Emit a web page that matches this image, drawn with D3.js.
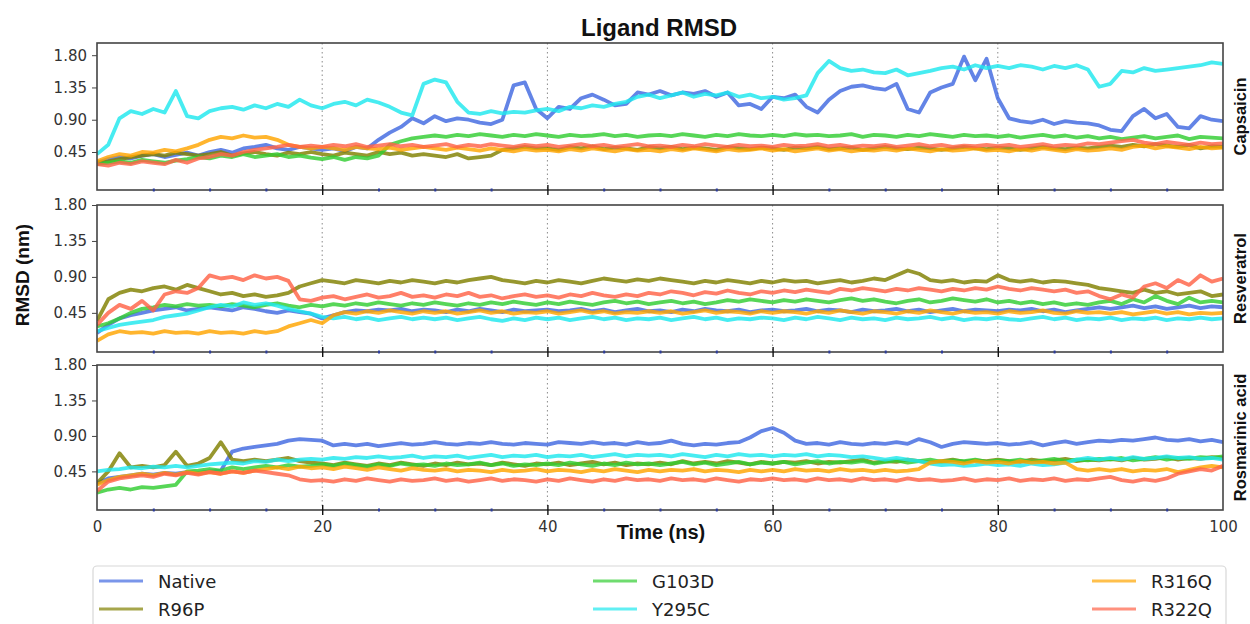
<!DOCTYPE html>
<html>
<head>
<meta charset="utf-8">
<script src="https://cdn.jsdelivr.net/npm/d3@7"></script>
<style>
  html, body { margin: 0; padding: 0; background: #fff; }
  svg { display: block; }
</style>
</head>
<body>
<svg id="chart" width="1250" height="624"></svg>
<script>
// ---------------- DATA ----------------
const seriesNames = ["Native", "R96P", "G103D", "Y295C", "R316Q", "R322Q"];
const seriesColors = ["#4169e1", "#808000", "#32cd32", "#1ee8ee", "#ffa500", "#ff6347"];
const ligands = ["Capsaicin", "Resveratrol", "Rosmarinic acid"];
const yTicks = [0.45, 0.90, 1.35, 1.80];
const xMajorTicks = [0, 20, 40, 60, 80, 100];
const xMinorTicks = [5, 10, 15, 25, 30, 35, 45, 50, 55, 65, 70, 75, 85, 90, 95];
const xGrid = [20, 40, 60, 80];
const timeNs = d3.range(0, 101); // sampling times, 1 ns apart

// Capsaicin
const capNative = [0.30,0.35,0.38,0.36,0.40,0.42,0.38,0.41,0.44,0.40,
  0.45,0.48,0.44,0.50,0.52,0.55,0.50,0.48,0.52,0.50,
  0.48,0.50,0.46,0.52,0.50,0.62,0.72,0.80,0.92,0.85,
  0.95,0.88,0.92,0.90,0.86,0.84,0.90,1.38,1.42,1.05,
  0.92,1.08,1.05,1.20,1.25,1.18,1.10,1.12,1.28,1.25,
  1.30,1.24,1.28,1.26,1.30,1.22,1.28,1.10,1.12,1.05,
  1.22,1.20,1.25,1.08,1.00,1.18,1.30,1.36,1.38,1.34,
  1.32,1.40,1.05,1.00,1.28,1.35,1.40,1.78,1.45,1.75,
  1.20,0.92,0.88,0.86,0.90,0.84,0.88,0.86,0.85,0.82,
  0.76,0.74,0.95,1.05,0.92,0.98,0.80,0.78,0.95,0.90,0.88];
const capR96P = [0.30,0.32,0.35,0.38,0.40,0.42,0.40,0.44,0.42,0.40,
  0.42,0.45,0.40,0.43,0.45,0.42,0.40,0.44,0.42,0.45,
  0.42,0.40,0.44,0.42,0.40,0.45,0.42,0.44,0.40,0.42,
  0.40,0.38,0.42,0.36,0.38,0.40,0.48,0.50,0.52,0.50,
  0.50,0.48,0.52,0.50,0.53,0.49,0.51,0.50,0.48,0.52,
  0.50,0.52,0.49,0.51,0.50,0.48,0.52,0.50,0.49,0.51,
  0.50,0.48,0.51,0.50,0.52,0.49,0.50,0.51,0.48,0.50,
  0.52,0.50,0.49,0.51,0.50,0.48,0.50,0.52,0.50,0.49,
  0.51,0.50,0.48,0.50,0.52,0.50,0.49,0.51,0.50,0.52,
  0.54,0.52,0.55,0.53,0.56,0.54,0.52,0.55,0.50,0.53,0.52];
const capG103D = [0.28,0.30,0.32,0.30,0.34,0.32,0.30,0.33,0.35,0.38,
  0.36,0.40,0.38,0.42,0.38,0.40,0.42,0.38,0.40,0.37,
  0.35,0.38,0.34,0.38,0.36,0.40,0.55,0.60,0.64,0.66,
  0.68,0.66,0.69,0.67,0.70,0.68,0.66,0.69,0.67,0.70,
  0.68,0.66,0.69,0.67,0.68,0.70,0.67,0.69,0.66,0.68,
  0.69,0.67,0.70,0.68,0.66,0.69,0.67,0.70,0.68,0.67,
  0.69,0.67,0.70,0.68,0.69,0.67,0.68,0.70,0.66,0.69,
  0.68,0.66,0.69,0.67,0.70,0.68,0.66,0.69,0.67,0.68,
  0.66,0.68,0.65,0.67,0.69,0.66,0.68,0.65,0.67,0.64,
  0.66,0.63,0.65,0.67,0.64,0.66,0.68,0.63,0.66,0.65,0.64];
const capY295C = [0.42,0.55,0.92,1.02,0.98,1.05,1.00,1.30,0.95,0.92,
  1.02,1.06,1.08,1.04,1.10,1.06,1.12,1.08,1.18,1.10,
  1.06,1.12,1.15,1.10,1.18,1.14,1.08,1.00,0.96,1.40,
  1.46,1.42,1.15,1.00,0.98,1.02,0.99,1.01,1.00,1.03,
  1.05,1.02,1.08,1.06,1.10,1.08,1.12,1.15,1.22,1.25,
  1.20,1.24,1.28,1.22,1.26,1.24,1.28,1.22,1.25,1.20,
  1.22,1.18,1.20,1.24,1.55,1.72,1.62,1.58,1.60,1.56,
  1.55,1.60,1.52,1.55,1.58,1.62,1.64,1.60,1.66,1.62,
  1.65,1.62,1.66,1.64,1.60,1.65,1.62,1.66,1.60,1.36,
  1.40,1.58,1.56,1.62,1.58,1.60,1.62,1.64,1.66,1.70,1.68];
const capR316Q = [0.32,0.38,0.42,0.40,0.45,0.44,0.48,0.46,0.50,0.55,
  0.62,0.66,0.64,0.68,0.65,0.66,0.62,0.55,0.52,0.50,
  0.52,0.50,0.48,0.52,0.50,0.49,0.51,0.48,0.50,0.52,
  0.50,0.48,0.51,0.49,0.47,0.50,0.48,0.46,0.49,0.47,
  0.48,0.46,0.49,0.47,0.50,0.48,0.46,0.49,0.47,0.48,
  0.46,0.49,0.47,0.50,0.48,0.46,0.49,0.47,0.48,0.50,
  0.47,0.49,0.46,0.48,0.50,0.47,0.49,0.46,0.48,0.47,
  0.49,0.47,0.50,0.48,0.46,0.49,0.47,0.48,0.50,0.47,
  0.48,0.46,0.49,0.47,0.50,0.48,0.46,0.49,0.47,0.48,
  0.50,0.48,0.52,0.54,0.50,0.53,0.51,0.49,0.52,0.50,0.51];
const capR322Q = [0.28,0.26,0.30,0.28,0.32,0.30,0.28,0.34,0.30,0.36,
  0.38,0.42,0.40,0.45,0.48,0.50,0.52,0.55,0.52,0.54,
  0.52,0.55,0.53,0.56,0.52,0.54,0.56,0.53,0.55,0.52,
  0.54,0.56,0.52,0.55,0.53,0.56,0.54,0.52,0.55,0.53,
  0.55,0.52,0.54,0.56,0.53,0.55,0.52,0.54,0.56,0.53,
  0.54,0.52,0.55,0.53,0.56,0.54,0.52,0.55,0.53,0.54,
  0.52,0.55,0.53,0.54,0.56,0.53,0.55,0.52,0.54,0.53,
  0.55,0.52,0.54,0.56,0.53,0.55,0.52,0.54,0.53,0.55,
  0.53,0.55,0.52,0.54,0.56,0.53,0.55,0.54,0.57,0.56,
  0.58,0.60,0.62,0.58,0.56,0.59,0.57,0.55,0.58,0.56,0.57];

// Resveratrol
const resNative = [0.20,0.30,0.38,0.42,0.45,0.48,0.50,0.52,0.48,0.50,
  0.52,0.50,0.48,0.52,0.50,0.47,0.45,0.48,0.46,0.44,
  0.38,0.42,0.46,0.48,0.47,0.49,0.48,0.50,0.47,0.49,
  0.48,0.46,0.49,0.47,0.50,0.48,0.46,0.49,0.47,0.48,
  0.49,0.47,0.48,0.50,0.47,0.49,0.46,0.48,0.50,0.47,
  0.48,0.46,0.49,0.47,0.50,0.48,0.47,0.49,0.46,0.48,
  0.49,0.47,0.48,0.50,0.47,0.49,0.48,0.46,0.49,0.47,
  0.48,0.50,0.47,0.49,0.46,0.48,0.50,0.47,0.49,0.48,
  0.47,0.49,0.48,0.50,0.47,0.49,0.46,0.48,0.50,0.52,
  0.50,0.52,0.54,0.51,0.53,0.50,0.52,0.54,0.51,0.53,0.52];
const resR96P = [0.35,0.62,0.70,0.74,0.72,0.76,0.78,0.74,0.80,0.76,
  0.72,0.68,0.70,0.66,0.68,0.65,0.67,0.70,0.78,0.82,
  0.86,0.84,0.82,0.86,0.84,0.82,0.85,0.83,0.86,0.84,
  0.82,0.85,0.83,0.86,0.88,0.90,0.86,0.84,0.82,0.85,
  0.83,0.86,0.84,0.82,0.85,0.88,0.86,0.84,0.87,0.85,
  0.88,0.86,0.84,0.82,0.85,0.83,0.86,0.84,0.82,0.85,
  0.83,0.86,0.84,0.85,0.82,0.84,0.86,0.83,0.85,0.88,
  0.86,0.92,0.98,0.94,0.86,0.84,0.86,0.83,0.85,0.84,
  0.92,0.86,0.84,0.86,0.83,0.85,0.84,0.82,0.80,0.76,
  0.74,0.72,0.70,0.74,0.70,0.72,0.68,0.70,0.72,0.66,0.68];
const resG103D = [0.28,0.32,0.38,0.45,0.50,0.52,0.55,0.53,0.56,0.54,
  0.55,0.53,0.56,0.54,0.52,0.55,0.57,0.54,0.52,0.55,
  0.53,0.56,0.54,0.57,0.55,0.58,0.56,0.54,0.57,0.55,
  0.58,0.56,0.54,0.57,0.55,0.58,0.56,0.59,0.57,0.55,
  0.58,0.56,0.59,0.57,0.55,0.58,0.60,0.57,0.59,0.56,
  0.58,0.60,0.57,0.59,0.56,0.58,0.61,0.59,0.62,0.60,
  0.58,0.61,0.59,0.62,0.60,0.58,0.61,0.63,0.60,0.62,
  0.59,0.57,0.60,0.62,0.58,0.60,0.63,0.61,0.59,0.62,
  0.58,0.60,0.57,0.59,0.56,0.58,0.55,0.57,0.55,0.58,
  0.60,0.56,0.62,0.58,0.66,0.60,0.56,0.64,0.58,0.60,0.58];
const resY295C = [0.22,0.26,0.30,0.32,0.34,0.36,0.40,0.42,0.44,0.48,
  0.52,0.55,0.53,0.58,0.55,0.57,0.54,0.50,0.47,0.44,
  0.40,0.38,0.40,0.37,0.39,0.36,0.38,0.40,0.37,0.39,
  0.37,0.39,0.36,0.38,0.40,0.37,0.35,0.38,0.36,0.39,
  0.37,0.39,0.36,0.38,0.40,0.37,0.39,0.36,0.38,0.37,
  0.39,0.36,0.38,0.40,0.37,0.39,0.36,0.38,0.37,0.39,
  0.38,0.36,0.39,0.37,0.40,0.38,0.36,0.39,0.37,0.38,
  0.36,0.39,0.37,0.38,0.40,0.37,0.39,0.36,0.38,0.37,
  0.39,0.37,0.36,0.38,0.40,0.37,0.39,0.36,0.38,0.37,
  0.39,0.36,0.38,0.37,0.39,0.36,0.38,0.37,0.39,0.37,0.38];
const resR316Q = [0.10,0.18,0.22,0.20,0.21,0.19,0.22,0.20,0.21,0.19,
  0.22,0.20,0.21,0.19,0.22,0.20,0.22,0.28,0.32,0.36,
  0.32,0.42,0.46,0.44,0.47,0.45,0.48,0.46,0.44,0.47,
  0.45,0.47,0.44,0.46,0.48,0.45,0.47,0.44,0.46,0.45,
  0.47,0.44,0.46,0.48,0.45,0.47,0.44,0.46,0.45,0.47,
  0.45,0.47,0.44,0.46,0.48,0.45,0.47,0.46,0.44,0.47,
  0.45,0.47,0.46,0.44,0.47,0.45,0.48,0.46,0.44,0.47,
  0.46,0.44,0.47,0.45,0.48,0.46,0.44,0.47,0.45,0.46,
  0.44,0.47,0.45,0.46,0.48,0.45,0.44,0.47,0.45,0.46,
  0.44,0.46,0.43,0.45,0.47,0.44,0.46,0.43,0.45,0.44,0.45];
const resR322Q = [0.30,0.45,0.55,0.50,0.60,0.48,0.68,0.72,0.70,0.76,
  0.92,0.88,0.90,0.86,0.92,0.88,0.90,0.85,0.62,0.60,
  0.64,0.66,0.62,0.65,0.68,0.64,0.66,0.70,0.65,0.67,
  0.64,0.68,0.66,0.70,0.65,0.67,0.63,0.66,0.68,0.65,
  0.67,0.64,0.68,0.66,0.70,0.67,0.65,0.68,0.66,0.70,
  0.68,0.72,0.70,0.67,0.71,0.69,0.73,0.70,0.68,0.72,
  0.70,0.73,0.71,0.74,0.72,0.70,0.75,0.73,0.76,0.74,
  0.72,0.75,0.73,0.76,0.74,0.72,0.75,0.73,0.76,0.74,
  0.78,0.75,0.73,0.76,0.74,0.72,0.74,0.70,0.72,0.66,
  0.62,0.68,0.64,0.78,0.82,0.76,0.86,0.80,0.92,0.84,0.88];

// Rosmarinic acid
const rosNative = [0.30,0.36,0.38,0.40,0.42,0.41,0.43,0.42,0.44,0.43,
  0.45,0.46,0.70,0.74,0.76,0.78,0.80,0.84,0.86,0.85,
  0.84,0.78,0.80,0.78,0.80,0.77,0.79,0.81,0.79,0.80,
  0.82,0.80,0.79,0.81,0.80,0.82,0.80,0.79,0.81,0.80,
  0.79,0.82,0.81,0.80,0.82,0.80,0.81,0.79,0.82,0.80,
  0.81,0.84,0.80,0.78,0.80,0.79,0.81,0.82,0.88,0.96,
  1.00,0.94,0.84,0.80,0.81,0.79,0.82,0.80,0.79,0.81,
  0.80,0.82,0.80,0.86,0.82,0.76,0.80,0.82,0.81,0.80,
  0.81,0.79,0.80,0.82,0.78,0.81,0.83,0.80,0.82,0.84,
  0.83,0.85,0.84,0.86,0.88,0.85,0.84,0.86,0.83,0.85,0.82];
const rosR96P = [0.30,0.45,0.68,0.50,0.52,0.50,0.53,0.70,0.52,0.55,
  0.62,0.82,0.60,0.58,0.60,0.58,0.60,0.62,0.58,0.56,
  0.55,0.53,0.56,0.54,0.52,0.55,0.53,0.56,0.54,0.52,
  0.55,0.53,0.56,0.54,0.55,0.53,0.56,0.54,0.52,0.55,
  0.54,0.56,0.53,0.55,0.57,0.54,0.56,0.53,0.55,0.54,
  0.56,0.54,0.58,0.55,0.57,0.55,0.58,0.56,0.54,0.57,
  0.55,0.57,0.56,0.58,0.55,0.57,0.56,0.58,0.60,0.56,
  0.58,0.57,0.60,0.58,0.56,0.58,0.60,0.57,0.59,0.58,
  0.60,0.58,0.57,0.60,0.58,0.59,0.61,0.58,0.60,0.59,
  0.61,0.59,0.62,0.60,0.61,0.63,0.60,0.62,0.61,0.63,0.62];
const rosG103D = [0.18,0.22,0.24,0.22,0.25,0.24,0.26,0.28,0.45,0.46,
  0.48,0.46,0.50,0.48,0.50,0.52,0.50,0.53,0.51,0.52,
  0.54,0.52,0.55,0.53,0.51,0.54,0.52,0.55,0.53,0.54,
  0.52,0.55,0.53,0.54,0.56,0.53,0.55,0.52,0.54,0.53,
  0.55,0.53,0.56,0.54,0.52,0.55,0.53,0.56,0.54,0.55,
  0.53,0.55,0.57,0.54,0.56,0.53,0.55,0.57,0.54,0.56,
  0.55,0.57,0.54,0.56,0.58,0.55,0.57,0.56,0.58,0.55,
  0.57,0.59,0.56,0.58,0.60,0.57,0.59,0.58,0.60,0.57,
  0.59,0.58,0.60,0.57,0.59,0.61,0.58,0.60,0.59,0.61,
  0.60,0.62,0.59,0.61,0.63,0.60,0.62,0.61,0.63,0.62,0.64];
const rosY295C = [0.45,0.47,0.48,0.50,0.49,0.51,0.50,0.52,0.50,0.52,
  0.54,0.55,0.56,0.55,0.58,0.57,0.60,0.58,0.60,0.61,
  0.60,0.62,0.61,0.63,0.62,0.64,0.62,0.63,0.65,0.62,
  0.64,0.63,0.65,0.62,0.64,0.66,0.63,0.65,0.64,0.66,
  0.63,0.65,0.64,0.66,0.63,0.65,0.67,0.64,0.66,0.65,
  0.66,0.64,0.67,0.65,0.63,0.66,0.64,0.67,0.65,0.66,
  0.64,0.66,0.65,0.67,0.64,0.66,0.65,0.63,0.64,0.62,
  0.60,0.62,0.60,0.58,0.55,0.53,0.54,0.52,0.53,0.55,
  0.53,0.54,0.52,0.55,0.53,0.54,0.56,0.60,0.62,0.60,
  0.62,0.60,0.63,0.61,0.62,0.64,0.62,0.63,0.61,0.62,0.60];
const rosR316Q = [0.28,0.34,0.38,0.40,0.42,0.40,0.43,0.41,0.44,0.42,
  0.44,0.42,0.45,0.43,0.46,0.48,0.50,0.48,0.51,0.49,
  0.50,0.48,0.51,0.49,0.47,0.50,0.48,0.46,0.49,0.47,
  0.46,0.48,0.45,0.47,0.46,0.44,0.47,0.45,0.46,0.48,
  0.45,0.47,0.46,0.44,0.47,0.45,0.48,0.46,0.44,0.47,
  0.45,0.47,0.46,0.48,0.45,0.47,0.46,0.44,0.47,0.45,
  0.47,0.45,0.48,0.46,0.47,0.45,0.48,0.46,0.47,0.45,
  0.47,0.45,0.46,0.48,0.56,0.58,0.57,0.55,0.58,0.56,
  0.57,0.55,0.58,0.56,0.57,0.55,0.56,0.48,0.46,0.48,
  0.46,0.48,0.45,0.47,0.46,0.48,0.44,0.47,0.50,0.52,0.50];
const rosR322Q = [0.20,0.32,0.36,0.38,0.40,0.38,0.42,0.40,0.43,0.41,
  0.44,0.42,0.45,0.43,0.46,0.44,0.42,0.40,0.35,0.33,
  0.34,0.32,0.35,0.33,0.36,0.34,0.32,0.35,0.33,0.34,
  0.36,0.33,0.35,0.32,0.34,0.36,0.33,0.35,0.34,0.32,
  0.35,0.33,0.36,0.34,0.32,0.35,0.33,0.36,0.34,0.35,
  0.33,0.36,0.34,0.35,0.33,0.36,0.34,0.32,0.35,0.34,
  0.36,0.34,0.35,0.33,0.36,0.34,0.35,0.33,0.36,0.34,
  0.35,0.33,0.36,0.34,0.35,0.33,0.34,0.36,0.33,0.35,
  0.34,0.36,0.33,0.35,0.34,0.36,0.33,0.35,0.34,0.36,
  0.38,0.34,0.32,0.35,0.33,0.36,0.42,0.45,0.48,0.46,0.52];

const panelSeries = [
  [capNative, capR96P, capG103D, capY295C, capR316Q, capR322Q],
  [resNative, resR96P, resG103D, resY295C, resR316Q, resR322Q],
  [rosNative, rosR96P, rosG103D, rosY295C, rosR316Q, rosR322Q]
];
const panelYDomains = [[-0.08, 1.97], [-0.04, 1.80], [-0.04, 1.80]];

// ---------------- LAYOUT ----------------
const svg = d3.select("#chart");
const left = 97, right = 1223;
const panelBoxes = [ {top: 43, bottom: 190}, {top: 205, bottom: 352}, {top: 365, bottom: 510} ];
const x = d3.scaleLinear().domain([0, 100]).range([left, right]);
const textFont = "'DejaVu Sans', sans-serif";
const boldFont = "'Liberation Sans', Arial, sans-serif";

svg.append("rect").attr("width", 1250).attr("height", 624).attr("fill", "#fff");

panelBoxes.forEach((box, p) => {
  const y = d3.scaleLinear().domain(panelYDomains[p]).range([box.bottom, box.top]);
  const g = svg.append("g");

  g.append("clipPath").attr("id", "clip" + p)
    .append("rect").attr("x", left).attr("y", box.top)
    .attr("width", right - left).attr("height", box.bottom - box.top);

  // dotted vertical grid
  g.selectAll("line.grid").data(xGrid).join("line")
    .attr("x1", d => x(d)).attr("x2", d => x(d))
    .attr("y1", box.top).attr("y2", box.bottom)
    .attr("stroke", "#8a8a8a").attr("stroke-width", 1)
    .attr("stroke-dasharray", "1.5,3");

  // lines
  const line = d3.line().x((d, i) => x(timeNs[i])).y(d => y(d));
  g.append("g").attr("clip-path", `url(#clip${p})`)
    .selectAll("path").data(panelSeries[p]).join("path")
    .attr("d", d => line(d))
    .attr("fill", "none")
    .attr("stroke", (d, i) => seriesColors[i])
    .attr("stroke-opacity", 0.82)
    .attr("stroke-width", 3.8)
    .attr("stroke-linejoin", "round");

  // frame
  g.append("rect").attr("x", left).attr("y", box.top)
    .attr("width", right - left).attr("height", box.bottom - box.top)
    .attr("fill", "none").attr("stroke", "#444").attr("stroke-width", 1.6);

  // y axis
  const ya = g.append("g").attr("transform", `translate(${left},0)`)
    .call(d3.axisLeft(y).tickValues(yTicks).tickFormat(d3.format(".2f")).tickSize(5).tickPadding(5));
  ya.select(".domain").remove();
  ya.selectAll("line").attr("stroke", "#444");
  ya.selectAll("text").attr("font-family", textFont).attr("font-size", 15).attr("fill", "#333");

  // major x ticks crossing the bottom spine
  const xa = g.append("g").attr("transform", `translate(0,${box.bottom - 5})`)
    .call(d3.axisBottom(x).tickValues(xGrid).tickSize(10).tickFormat(""));
  xa.select(".domain").remove();
  xa.selectAll("line").attr("stroke", "#111").attr("stroke-width", 1.4);

  // minor x ticks
  const xm = g.append("g").attr("transform", `translate(0,${box.bottom - 1.5})`)
    .call(d3.axisBottom(x).tickValues(xMinorTicks).tickSize(3).tickFormat(""));
  xm.select(".domain").remove();
  xm.selectAll("line").attr("stroke", "#2c3c9c").attr("stroke-width", 2);

  // ligand label on right
  svg.append("text")
    .attr("transform", `translate(1246,${(box.top + box.bottom) / 2}) rotate(-90)`)
    .attr("text-anchor", "middle")
    .attr("font-family", boldFont).attr("font-weight", "bold").attr("font-size", 16.5)
    .attr("fill", "#111")
    .text(ligands[p]);

  // x tick labels on the bottom panel
  if (p === panelBoxes.length - 1) {
    const xl = g.append("g").attr("transform", `translate(0,${box.bottom})`)
      .call(d3.axisBottom(x).tickValues(xMajorTicks).tickSize(0).tickPadding(11).tickFormat(d3.format("d")));
    xl.select(".domain").remove();
    xl.selectAll("text").attr("font-family", textFont).attr("font-size", 15).attr("fill", "#333");
  }
});

// title and axis titles
svg.append("text").attr("x", 659).attr("y", 36).attr("text-anchor", "middle")
  .attr("font-family", boldFont).attr("font-weight", "bold").attr("font-size", 24)
  .attr("fill", "#111").text("Ligand RMSD");
svg.append("text").attr("x", 661).attr("y", 539).attr("text-anchor", "middle")
  .attr("font-family", boldFont).attr("font-weight", "bold").attr("font-size", 20)
  .attr("fill", "#111").text("Time (ns)");
svg.append("text").attr("transform", "translate(29,275) rotate(-90)").attr("text-anchor", "middle")
  .attr("font-family", boldFont).attr("font-weight", "bold").attr("font-size", 19)
  .attr("fill", "#111").text("RMSD (nm)");

// legend
const legend = svg.append("g");
legend.append("rect").attr("x", 93).attr("y", 566).attr("width", 1133).attr("height", 80)
  .attr("rx", 4).attr("fill", "#fff").attr("stroke", "#d8d8d8").attr("stroke-width", 1.2);
const colX = [99, 593, 1092];
const rowY = [581, 609];
const items = legend.selectAll("g.item").data(seriesNames).join("g")
  .attr("transform", (d, i) => `translate(${colX[Math.floor(i / 2)]},${rowY[i % 2]})`);
items.append("line").attr("x1", 0).attr("x2", 44).attr("y1", 0).attr("y2", 0)
  .attr("stroke", (d, i) => seriesColors[i]).attr("stroke-opacity", 0.7).attr("stroke-width", 3);
items.append("text").attr("x", 59).attr("y", 7)
  .attr("font-family", textFont).attr("font-size", 18).attr("fill", "#222")
  .text(d => d);
</script>
</body>
</html>
